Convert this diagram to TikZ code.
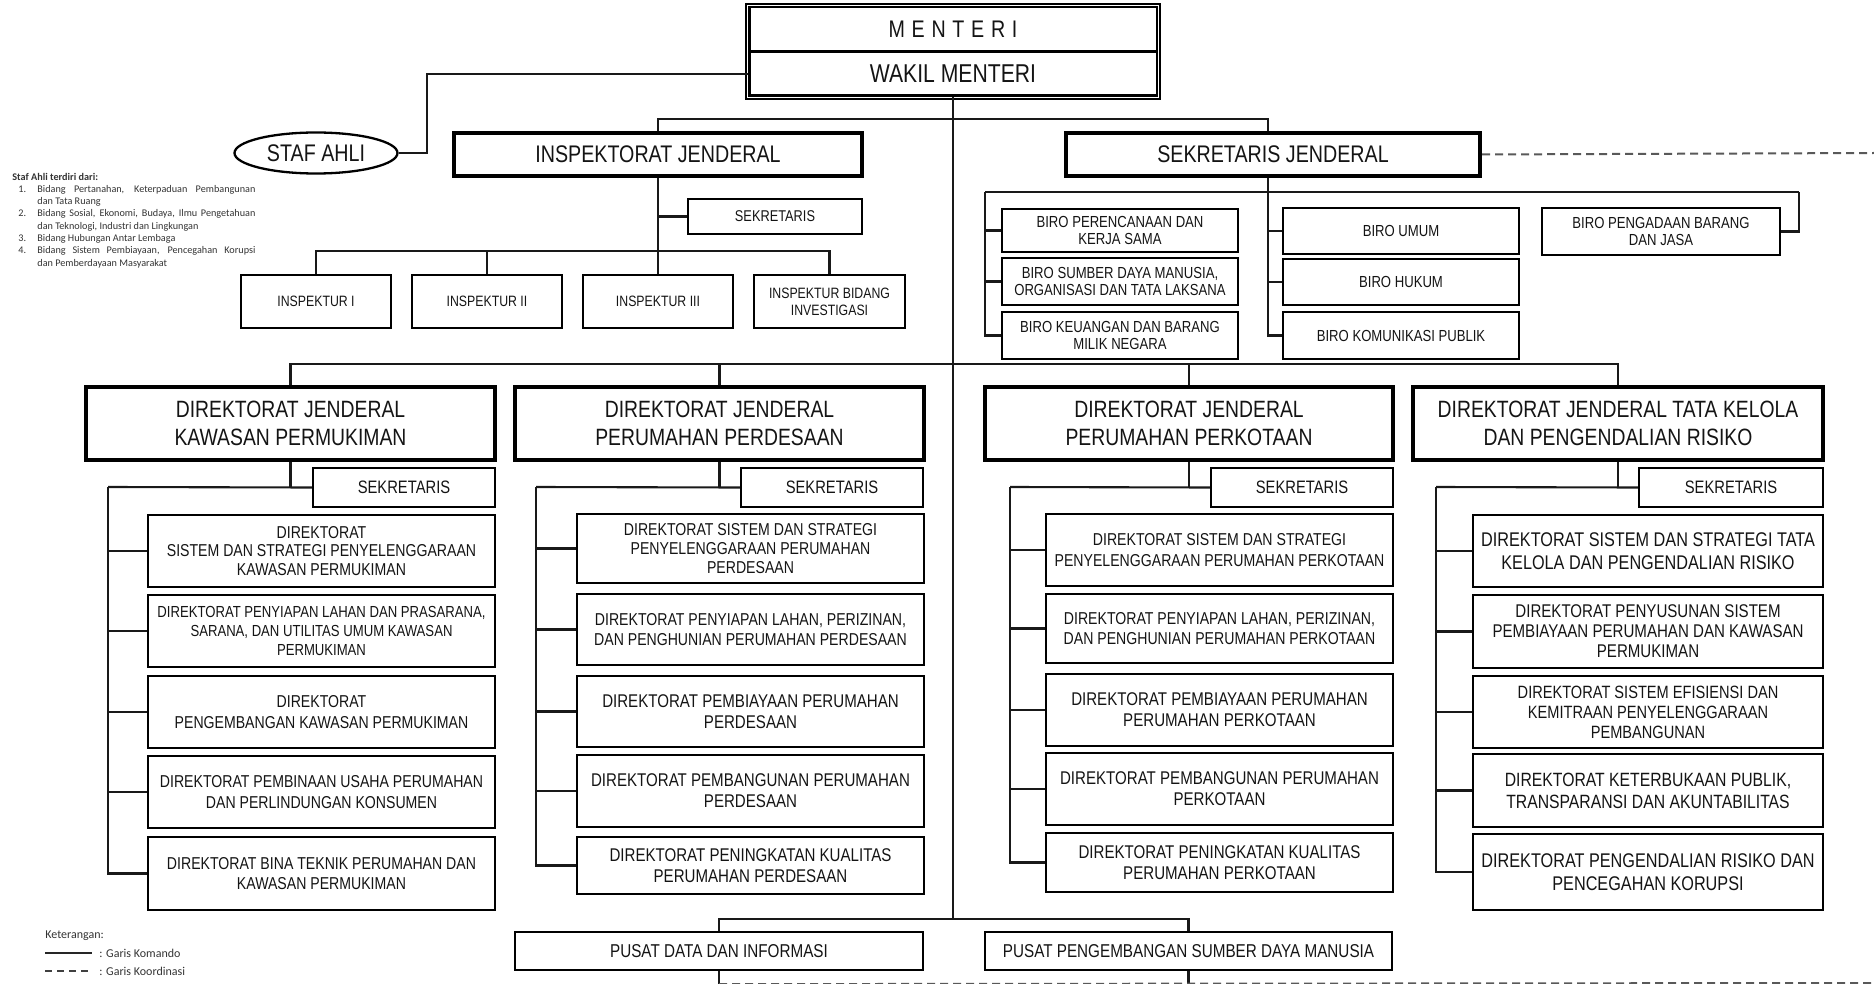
\documentclass[tikz,border=0pt]{standalone}
\usepackage{fontspec}
\setmainfont{Liberation Sans}
\newfontfamily\narrowfont[FakeStretch=0.82]{Liberation Sans}
\newfontfamily\spacedfont[FakeStretch=0.82,LetterSpace=28]{Liberation Sans}
\newfontfamily\notefont{Carlito}
\usetikzlibrary{shapes.geometric,calc}
\newcommand{\fs}[2]{\fontsize{#1}{#2}\selectfont}
\newcommand{\rbox}[7]{\node[#6, minimum width={(#4-#2)*0.5pt}, minimum height={(#5-#3)*0.5pt}] (#1) at ({(#2+#4)/2},{(#3+#5)/2}) {#7};}
\begin{document}
\begin{tikzpicture}[x=0.5pt,y=-0.5pt,
  box/.style={draw=black, line width=1.15pt, inner sep=0pt, align=center, text=black!92, font=\narrowfont\fs{8.6}{9.6}},
  dirbox/.style={box},
  dirl/.style={box, font=\narrowfont\fs{9.2}{10.4}},
  dirxl/.style={box, font=\narrowfont\fs{9.9}{11.3}},
  djbox/.style={box, line width=2.1pt, font=\narrowfont\fs{11.8}{13.8}},
  sekbox/.style={box, font=\narrowfont\fs{9}{10}},
  pusbox/.style={box, font=\narrowfont\fs{9.3}{10}},
  birobox/.style={box, font=\narrowfont\fs{8}{8.3}},
  inspbox/.style={box, font=\narrowfont\fs{7.5}{8.6}},
  bigbox/.style={box, line width=2.1pt, font=\narrowfont\fs{12}{14}},
  link/.style={line width=1.05pt, draw=black!90},
  coord/.style={line width=1pt, draw=black!65, dash pattern=on 4pt off 2.5pt},
  note/.style={inner sep=0pt, text=black!80, font=\notefont\fs{6}{7}}
]
\useasboundingbox (0,0) rectangle (1874,984);

% ---------- top ----------
\rbox{menteri}{749}{7}{1157}{52}{bigbox, line width=1.5pt}{{\spacedfont MENTERI}}
\rbox{wakil}{749}{52}{1157}{96}{bigbox, line width=1.5pt, font=\narrowfont\fs{12.9}{14}}{WAKIL MENTERI}
\draw[line width=0.9pt, double=white, double distance=0.8pt] (menteri.north west) rectangle (wakil.south east);

\node[ellipse, draw=black, line width=1.15pt, minimum width=81.5pt, minimum height=20.5pt, inner sep=0pt, text=black!92, font=\narrowfont\fs{12}{14}] (staf) at (316,153) {STAF AHLI};

\rbox{insp}{454}{133}{862}{176}{bigbox}{INSPEKTORAT JENDERAL}
\rbox{sekjen}{1066}{133}{1480}{176}{bigbox}{SEKRETARIS JENDERAL}

% ---------- inspektorat ----------
\rbox{sekI}{688}{199}{862}{234}{inspbox, font=\narrowfont\fs{7.8}{9}}{SEKRETARIS}
\rbox{ins1}{241}{275}{391}{328}{inspbox}{INSPEKTUR I}
\rbox{ins2}{412}{275}{562}{328}{inspbox}{INSPEKTUR II}
\rbox{ins3}{583}{275}{733}{328}{inspbox}{INSPEKTUR III}
\rbox{ins4}{754}{275}{905}{328}{inspbox}{INSPEKTUR BIDANG\\INVESTIGASI}

% ---------- biro ----------
\rbox{biro1}{1002}{209}{1238}{252}{birobox}{BIRO PERENCANAAN DAN\\KERJA SAMA}
\rbox{biro2}{1002}{258}{1238}{305}{birobox}{BIRO SUMBER DAYA MANUSIA,\\ORGANISASI DAN TATA LAKSANA}
\rbox{biro3}{1002}{312}{1238}{359}{birobox}{BIRO KEUANGAN DAN BARANG\\MILIK NEGARA}
\rbox{umum}{1283}{208}{1519}{254}{birobox}{BIRO UMUM}
\rbox{hukum}{1283}{259}{1519}{305}{birobox}{BIRO HUKUM}
\rbox{kompub}{1283}{312}{1519}{359}{birobox}{BIRO KOMUNIKASI PUBLIK}
\rbox{pengadaan}{1542}{208}{1780}{255}{birobox}{BIRO PENGADAAN BARANG\\DAN JASA}

% ---------- direktorat jenderal ----------
\rbox{dj1}{86}{387}{495}{460}{djbox}{DIREKTORAT JENDERAL\\KAWASAN PERMUKIMAN}
\rbox{dj2}{515}{387}{924}{460}{djbox}{DIREKTORAT JENDERAL\\PERUMAHAN PERDESAAN}
\rbox{dj3}{985}{387}{1393}{460}{djbox}{DIREKTORAT JENDERAL\\PERUMAHAN PERKOTAAN}
\rbox{dj4}{1413}{387}{1823}{460}{djbox}{DIREKTORAT JENDERAL TATA KELOLA\\DAN PENGENDALIAN RISIKO}

\rbox{s1}{313}{468}{495}{507}{sekbox}{SEKRETARIS}
\rbox{s2}{741}{468}{923}{507}{sekbox}{SEKRETARIS}
\rbox{s3}{1211}{468}{1393}{507}{sekbox}{SEKRETARIS}
\rbox{s4}{1639}{468}{1823}{507}{sekbox}{SEKRETARIS}

% column 1
\rbox{a1}{148}{515}{495}{587}{dirbox, font=\narrowfont\fs{8.6}{9.2}}{DIREKTORAT\\SISTEM DAN STRATEGI PENYELENGGARAAN\\KAWASAN PERMUKIMAN}
\rbox{a2}{148}{595}{495}{667}{dirbox, font=\narrowfont\fs{8}{9.6}}{DIREKTORAT PENYIAPAN LAHAN DAN PRASARANA,\\SARANA, DAN UTILITAS UMUM KAWASAN\\PERMUKIMAN}
\rbox{a3}{148}{676}{495}{748}{dirbox, font=\narrowfont\fs{8.6}{10.2}}{DIREKTORAT\\PENGEMBANGAN KAWASAN PERMUKIMAN}
\rbox{a4}{148}{756}{495}{828}{dirbox, font=\narrowfont\fs{8.6}{10.2}}{DIREKTORAT PEMBINAAN USAHA PERUMAHAN\\DAN PERLINDUNGAN KONSUMEN}
\rbox{a5}{148}{837}{495}{910}{dirbox, font=\narrowfont\fs{8.6}{10.2}}{DIREKTORAT BINA TEKNIK PERUMAHAN DAN\\KAWASAN PERMUKIMAN}
% column 2
\rbox{b1}{577}{514}{924}{583}{dirbox}{DIREKTORAT SISTEM DAN STRATEGI\\PENYELENGGARAAN PERUMAHAN\\PERDESAAN}
\rbox{b2}{577}{594}{924}{665}{dirbox, font=\narrowfont\fs{8.6}{10.2}}{DIREKTORAT PENYIAPAN LAHAN, PERIZINAN,\\DAN PENGHUNIAN PERUMAHAN PERDESAAN}
\rbox{b3}{577}{676}{924}{747}{dirl}{DIREKTORAT PEMBIAYAAN PERUMAHAN\\PERDESAAN}
\rbox{b4}{577}{755}{924}{827}{dirl}{DIREKTORAT PEMBANGUNAN PERUMAHAN\\PERDESAAN}
\rbox{b5}{577}{837}{924}{894}{dirl}{DIREKTORAT PENINGKATAN KUALITAS\\PERUMAHAN PERDESAAN}
% column 3
\rbox{c1}{1046}{514}{1393}{586}{dirbox, font=\narrowfont\fs{8.6}{10.2}}{DIREKTORAT SISTEM DAN STRATEGI\\PENYELENGGARAAN PERUMAHAN PERKOTAAN}
\rbox{c2}{1046}{594}{1393}{663}{dirbox, font=\narrowfont\fs{8.6}{10.2}}{DIREKTORAT PENYIAPAN LAHAN, PERIZINAN,\\DAN PENGHUNIAN PERUMAHAN PERKOTAAN}
\rbox{c3}{1046}{674}{1393}{746}{dirl}{DIREKTORAT PEMBIAYAAN PERUMAHAN\\PERUMAHAN PERKOTAAN}
\rbox{c4}{1046}{753}{1393}{825}{dirl}{DIREKTORAT PEMBANGUNAN PERUMAHAN\\PERKOTAAN}
\rbox{c5}{1046}{833}{1393}{892}{dirl}{DIREKTORAT PENINGKATAN KUALITAS\\PERUMAHAN PERKOTAAN}
% column 4
\rbox{d1}{1473}{515}{1823}{587}{dirxl}{DIREKTORAT SISTEM DAN STRATEGI TATA\\KELOLA DAN PENGENDALIAN RISIKO}
\rbox{d2}{1473}{595}{1823}{668}{dirbox, font=\narrowfont\fs{9.2}{10}}{DIREKTORAT PENYUSUNAN SISTEM\\PEMBIAYAAN PERUMAHAN DAN KAWASAN\\PERMUKIMAN}
\rbox{d3}{1473}{676}{1823}{748}{dirbox, font=\narrowfont\fs{8.9}{10}}{DIREKTORAT SISTEM EFISIENSI DAN\\KEMITRAAN PENYELENGGARAAN\\PEMBANGUNAN}
\rbox{d4}{1473}{754}{1823}{827}{dirl, font=\narrowfont\fs{9.6}{10.9}}{DIREKTORAT KETERBUKAAN PUBLIK,\\TRANSPARANSI DAN AKUNTABILITAS}
\rbox{d5}{1473}{834}{1823}{910}{dirxl}{DIREKTORAT PENGENDALIAN RISIKO DAN\\PENCEGAHAN KORUPSI}

% ---------- pusat ----------
\rbox{pd}{515}{932}{923}{970}{pusbox}{PUSAT DATA DAN INFORMASI}
\rbox{pp}{985}{932}{1392}{970}{pusbox}{PUSAT PENGEMBANGAN SUMBER DAYA MANUSIA}

% ---------- coordinates ----------
\coordinate (sa) at (427,74);
\coordinate (bot) at (953,920);
\coordinate (bl) at (985,192);
\coordinate (bm) at (1268,192);
\coordinate (br) at (1799,192);
\coordinate (k1) at (108,487);
\coordinate (k2) at (536,487);
\coordinate (k3) at (1010,487);
\coordinate (k4) at (1436,487);
\coordinate (dr) at (1874,153);
\coordinate (db) at (1874,983);

% ---------- connectors ----------
\draw[link] (wakil.west) -- (sa) |- (staf.east);
\draw[link] (wakil.south) -- (bot);
\draw[link] (insp.north) -- ++(0,-12) -| (bm |- sekjen.north);
\draw[link] (insp.south) -- (ins3.north);
\draw[link] (ins1.north) -- ++(0,-23) -| (ins4.north);
\draw[link] (ins2.north) -- ++(0,-23);
\draw[link] (sekI.west) -- (sekI.west -| insp.south);

\draw[link] (bm |- sekjen.south) -- (bm);
\draw[link] (bl) -- (br);
\draw[link] (bl) |- (biro3.west);
\draw[link] (bl |- biro1.west) -- (biro1.west);
\draw[link] (bl |- biro2.west) -- (biro2.west);
\draw[link] (bm) |- (kompub.west);
\draw[link] (bm |- umum.west) -- (umum.west);
\draw[link] (bm |- hukum.west) -- (hukum.west);
\draw[link] (br) |- (pengadaan.east);

\draw[link] (dj1.north) -- ++(0,-21) -| (dj4.north);
\draw[link] (dj2.north) -- ++(0,-21);
\draw[link] (dj3.north) -- ++(0,-21);

\draw[link] (dj1.south) -- (dj1.south |- s1.west);
\draw[link] (k1) -- (s1.west);
\draw[link] (k1) |- (a5.west);
\foreach \n in {a1,a2,a3,a4} \draw[link] (k1 |- \n.west) -- (\n.west);

\draw[link] (dj2.south) -- (dj2.south |- s2.west);
\draw[link] (k2) -- (s2.west);
\draw[link] (k2) |- (b5.west);
\foreach \n in {b1,b2,b3,b4} \draw[link] (k2 |- \n.west) -- (\n.west);

\draw[link] (dj3.south) -- (dj3.south |- s3.west);
\draw[link] (k3) -- (s3.west);
\draw[link] (k3) |- (c5.west);
\foreach \n in {c1,c2,c3,c4} \draw[link] (k3 |- \n.west) -- (\n.west);

\draw[link] (dj4.south) -- (dj4.south |- s4.west);
\draw[link] (k4) -- (s4.west);
\draw[link] (k4) |- (d5.west);
\foreach \n in {d1,d2,d3,d4} \draw[link] (k4 |- \n.west) -- (\n.west);

\draw[link] (pd.north) -- ++(0,-12) -| (pp.north);
\draw[link] (pd.south) -- ++(0,13);
\draw[link] (pp.south) -- ++(0,13);

% koordinasi
\draw[coord] (sekjen.east) -- (dr);
\draw[coord] ($(pd.south)+(0,13)$) -- (db);

% ---------- staf ahli notes ----------
\node[note, anchor=north west, font=\notefont\fs{5.1}{6.15}] (notes) at (12,171) {%
\begin{tabular}{@{}p{12.5pt}@{}p{109pt}@{}}
\multicolumn{2}{@{}l@{}}{\textbf{Staf Ahli terdiri dari:}}\\
\hspace{3pt}1. & Bidang Pertanahan, Keterpaduan Pembangunan\linebreak dan Tata Ruang\\
\hspace{3pt}2. & Bidang Sosial, Ekonomi, Budaya, Ilmu Pengetahuan\linebreak dan Teknologi, Industri dan Lingkungan\\
\hspace{3pt}3. & Bidang Hubungan Antar Lembaga\\
\hspace{3pt}4. & Bidang Sistem Pembiayaan, Pencegahan Korupsi\linebreak dan Pemberdayaan Masyarakat
\end{tabular}};

% ---------- legend ----------
\node[note, anchor=west] (ket) at (45,936) {Keterangan:};
\coordinate (l1a) at (45,953);
\coordinate (l1b) at (92,953);
\coordinate (l2a) at (45,971);
\coordinate (l2b) at (92,971);
\draw[line width=1pt, draw=black!85] (l1a) -- (l1b);
\draw[line width=1pt, draw=black!75, dash pattern=on 3.5pt off 2.5pt] (l2a) -- (l2b);
\node[note, anchor=west] (gk) at (99,953) {: Garis Komando};
\node[note, anchor=west] (gc) at (99,971) {: Garis Koordinasi};
\end{tikzpicture}
\end{document}
